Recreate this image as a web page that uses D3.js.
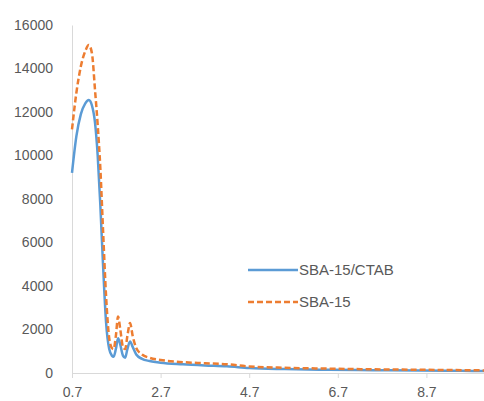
<!DOCTYPE html>
<html>
<head>
<meta charset="utf-8">
<script src="https://cdn.jsdelivr.net/npm/d3@7"></script>
<style>
  body { margin: 0; background: #fff; }
  svg { display: block; }
  text { font-family: "Liberation Sans", Arial, sans-serif; fill: #595959; }
</style>
</head>
<body>
<div id="chart"></div>
<script>
// 2-theta values (x) shared by both series
const twoTheta = [0.70, 0.80, 0.90, 1.00, 1.08, 1.15, 1.22, 1.28, 1.34, 1.40, 1.47, 1.54, 1.60, 1.64, 1.69, 1.74, 1.79, 1.85, 1.90, 1.95, 2.01, 2.07, 2.15, 2.28, 2.45, 2.70, 3.20, 3.70, 4.20, 4.70, 5.50, 6.50, 7.50, 8.50, 9.50, 10.0];

const ctabValues = [9200, 10900, 11900, 12400, 12550, 12300, 11500, 10000, 7700, 5000, 2300, 1100, 800, 750, 1100, 1600, 1300, 800, 700, 1100, 1450, 1200, 850, 650, 550, 470, 400, 350, 310, 230, 180, 150, 130, 110, 100, 95];

const sbaValues = [11200, 12900, 14100, 14800, 15080, 14700, 13000, 11400, 9400, 6600, 3500, 1600, 1150, 1100, 1700, 2600, 2000, 1200, 1100, 1700, 2300, 1700, 1150, 850, 700, 600, 500, 450, 400, 300, 240, 200, 170, 150, 130, 120];

const xTicks = [0.7, 2.7, 4.7, 6.7, 8.7];
const yTicks = [0, 2000, 4000, 6000, 8000, 10000, 12000, 14000, 16000];

const seriesNames = ["SBA-15/CTAB", "SBA-15"];

const W = 484, H = 401;
const margin = { top: 25, right: 0, bottom: 28, left: 72 };

const svg = d3.select("#chart")
  .append("svg")
  .attr("width", W)
  .attr("height", H);

const x = d3.scaleLinear()
  .domain([0.7, 10.0])
  .range([margin.left, W - margin.right]);

const y = d3.scaleLinear()
  .domain([0, 16000])
  .range([H - margin.bottom, margin.top]);

// axes
const xAxis = svg.append("g")
  .attr("transform", `translate(0,${H - margin.bottom})`)
  .call(d3.axisBottom(x).tickValues(xTicks).tickFormat(d3.format(".1f"))
    .tickSize(5).tickSizeOuter(0).tickPadding(9));
xAxis.select(".domain").attr("stroke", "#d9d9d9");
xAxis.selectAll(".tick line").attr("stroke", "#d9d9d9");
xAxis.selectAll("text").style("font-size", "14px").attr("fill", "#595959");

const yAxis = svg.append("g")
  .attr("transform", `translate(${margin.left},0)`)
  .call(d3.axisLeft(y).tickValues(yTicks).tickFormat(d3.format("d"))
    .tickSize(0).tickPadding(19));
yAxis.select(".domain").attr("stroke", "#d9d9d9");
yAxis.selectAll("text").style("font-size", "14px").attr("fill", "#595959");

// lines
const line = d3.line()
  .x((d, i) => x(twoTheta[i]))
  .y(d => y(d))
  .curve(d3.curveMonotoneX);

svg.append("path")
  .datum(ctabValues)
  .attr("fill", "none")
  .attr("stroke", "#5b9bd5")
  .attr("stroke-width", 2.5)
  .attr("d", line);

svg.append("path")
  .datum(sbaValues)
  .attr("fill", "none")
  .attr("stroke", "#ed7d31")
  .attr("stroke-width", 2.5)
  .attr("stroke-dasharray", "6,3")
  .attr("d", line);

// legend
const legend = svg.append("g").attr("transform", "translate(248,270)");
const styles = [
  { color: "#5b9bd5", dash: null },
  { color: "#ed7d31", dash: "6,3" }
];
seriesNames.forEach((name, i) => {
  const g = legend.append("g").attr("transform", `translate(0,${i * 32})`);
  g.append("line")
    .attr("x1", 0).attr("x2", 50)
    .attr("stroke", styles[i].color)
    .attr("stroke-width", 2.5)
    .attr("stroke-dasharray", styles[i].dash);
  g.append("text")
    .attr("x", 51)
    .attr("dy", "0.35em")
    .style("font-size", "15px")
    .text(name);
});
</script>
</body>
</html>
